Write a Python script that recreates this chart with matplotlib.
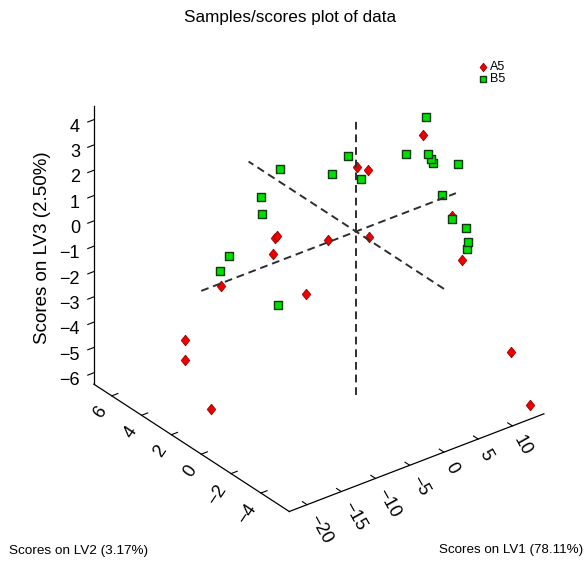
import numpy as np
import matplotlib
matplotlib.use("Agg")
import matplotlib.pyplot as plt

plt.rcParams['font.family'] = ['Liberation Sans', 'DejaVu Sans']

# scores on LV1 / LV2 / LV3, class A5
a5_lv1 = [8.75, 0.17, -0.44, 9.68, -7.12, -7.08, -2.95, -0.34, -8.87, 7.90,
          -13.22, -7.28, -14.05, -12.97, -20.02, 12.85, 14.10]
a5_lv2 = [-0.5, 0.0, -1.0, -2.0, 2.0, 2.2, 0.5, -1.0, 1.5, -3.5,
          3.0, 0.0, 5.0, 5.5, 0.5, -4.5, -5.2]
a5_lv3 = [3.09, 2.53, 2.86, 0.39, -0.19, -0.35, -0.21, 0.21, -0.53, -0.61,
          -1.94, -1.70, -4.73, -5.85, -5.11, -4.35, -6.32]

# class B5
b5_lv1 = [8.07, 6.20, 7.32, 7.45, 8.26, 9.43, 1.07, -2.47, -6.74, -0.38,
          -7.34, -8.27, 8.27, 8.65, 9.51, 8.67, 9.74, -10.90, -11.21, -8.05]
b5_lv2 = [-1.0, -0.5, -1.5, -1.6, -1.4, -2.5, 1.0, 0.5, 2.0, -0.5,
          3.0, 2.5, -2.0, -2.5, -3.0, -3.5, -3.0, 3.5, 4.0, 1.5]
b5_lv3 = [4.07, 2.61, 2.86, 2.69, 2.37, 2.63, 2.47, 2.35, 2.40, 2.31,
          0.99, 0.60, 1.37, 0.54, 0.30, 0.02, -0.53, -1.18, -1.95, -2.63]

lv1_lim = (-22.6, 14.6)
lv2_lim = (-5.9, 7.2)
lv3_lim = (-6.45, 4.53)

diamond = [(0, 1), (0.8, 0), (0, -1), (-0.8, 0), (0, 1)]

fig = plt.figure(figsize=(5.84, 5.61), dpi=100)
ax = fig.add_axes([0.0715, 0.0425, 0.9241, 0.962], projection='3d',
                  computed_zorder=False)
ax.set_proj_type('ortho')
ax.view_init(elev=30, azim=-127.5)
ax.set_box_aspect((1, 1, 1))

# origin axis lines
dash = (0, (4, 2.5))
ax.plot(lv1_lim, [0, 0], [0, 0], color='#2e2e2e', lw=1.4, ls=dash)
ax.plot([0, 0], lv2_lim, [0, 0], color='#2e2e2e', lw=1.4, ls=dash)
ax.plot([0, 0], [0, 0], lv3_lim, color='#2e2e2e', lw=1.4, ls=dash)

ax.scatter(a5_lv1, a5_lv2, a5_lv3, marker=diamond, s=58, c='#f00000',
           edgecolors='#9a0000', linewidths=0.6, depthshade=False, label='A5')
ax.scatter(b5_lv1, b5_lv2, b5_lv3, marker='s', s=32, c='#00e000',
           edgecolors='#0f3a0f', linewidths=1.0, depthshade=False, label='B5')

ax.set_xlim(lv1_lim)
ax.set_ylim(lv2_lim)
ax.set_zlim(lv3_lim)
ax.set_xticks([-20, -15, -10, -5, 0, 5, 10])
ax.set_yticks([-4, -2, 0, 2, 4, 6])
ax.set_zticks(range(-6, 5))
ax.tick_params(labelsize=13)
ax.xaxis.set_tick_params(pad=-2.3)
ax.yaxis.set_tick_params(pad=-1.2)
ax.zaxis.set_tick_params(pad=-1.8)
for t in ax.get_xticklabels():
    t.set_rotation(-61)
    t.set_rotation_mode('anchor')
    t.set_ha('left')
    t.set_va('center')
for t in ax.get_yticklabels():
    t.set_rotation(56)
    t.set_rotation_mode('anchor')
    t.set_ha('right')
    t.set_va('center')
for t in ax.get_zticklabels():
    t.set_ha('right')

ax.grid(False)
for a in (ax.xaxis, ax.yaxis, ax.zaxis):
    a.pane.fill = False
    a.pane.set_edgecolor('none')
    a.line.set_color('black')
    a.line.set_linewidth(0.9)
    a._axinfo['tick']['inward_factor'] = 0.0
    a._axinfo['tick']['outward_factor'] = 0.3
ax.zaxis._axinfo['tick']['inward_factor'] = 0.3
ax.zaxis._axinfo['tick']['outward_factor'] = 0.0

fig.text(0.497, 0.968, 'Samples/scores plot of data', ha='center', va='center', fontsize=12.3)
fig.text(0.015, 0.018, 'Scores on LV2 (3.17%)', ha='left', va='center', fontsize=9.7)
fig.text(0.998, 0.020, 'Scores on LV1 (78.11%)', ha='right', va='center', fontsize=9.6)
fig.text(0.072, 0.558, 'Scores on LV3 (2.50%)', ha='center', va='center',
         rotation=90, fontsize=13.5)

fig.legend(loc='upper left', bbox_to_anchor=(0.812, 0.9), frameon=False,
           fontsize=9, handlelength=0.6, handletextpad=0.3, labelspacing=0.0,
           borderaxespad=0, markerscale=0.8)

fig.savefig('out.png', dpi=100)
